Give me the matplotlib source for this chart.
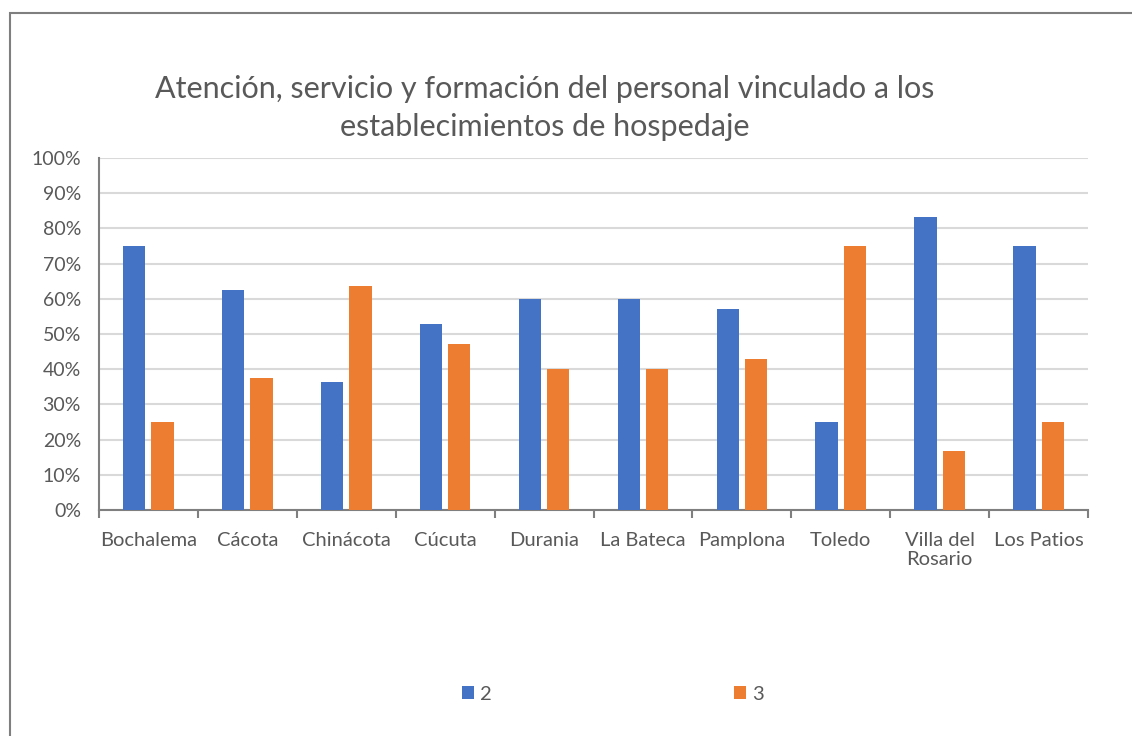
import matplotlib.pyplot as plt
from matplotlib.patches import Rectangle
import numpy as np

plt.rcParams['font.family'] = ['Lato', 'DejaVu Sans']

municipios = ["Bochalema", "Cácota", "Chinácota", "Cúcuta", "Durania",
              "La Bateca", "Pamplona", "Toledo", "Villa del\nRosario", "Los Patios"]
serie_2 = [75.0, 62.5, 36.4, 52.9, 60.0, 60.0, 57.1, 25.0, 83.3, 75.0]
serie_3 = [25.0, 37.5, 63.6, 47.1, 40.0, 40.0, 42.9, 75.0, 16.7, 25.0]
nombres_series = ["2", "3"]

azul = "#4472C4"
naranja = "#ED7D31"
gris_texto = "#595959"

fig = plt.figure(figsize=(11.32, 7.36), dpi=100)
# marco del grafico
fig.patches.append(Rectangle((10 / 1132, -0.1), 1.2, 1 - 13 / 736 + 0.1,
                             transform=fig.transFigure, fill=False,
                             edgecolor="#7f7f7f", linewidth=1.5))

ax = fig.add_axes([99 / 1132, 226 / 736, 989 / 1132, 352 / 736])
x = np.arange(len(municipios))
w = 0.225
ax.bar(x - 0.143, serie_2, w, color=azul, label=nombres_series[0], zorder=3)
ax.bar(x + 0.143, serie_3, w, color=naranja, label=nombres_series[1], zorder=3)

ax.set_xlim(-0.5, len(municipios) - 0.5)
ax.set_ylim(0, 100)
ax.set_yticks(np.arange(0, 101, 10))
ax.set_yticklabels([f"{v}%" for v in range(0, 101, 10)])
ax.yaxis.grid(True, color="#d9d9d9", linewidth=1.5, zorder=0)
ax.set_xticks(x)
ax.set_xticklabels(municipios)
ax.set_xticks(np.arange(-0.5, len(municipios)), minor=True)
ax.tick_params(axis="x", which="major", length=0, pad=16, labelsize=14.5, colors=gris_texto)
ax.tick_params(axis="x", which="minor", length=6, width=1.5, color="#7f7f7f")
ax.tick_params(axis="y", length=0, pad=13, labelsize=14, colors=gris_texto)
for lado in ["top", "right"]:
    ax.spines[lado].set_visible(False)
for lado in ["left", "bottom"]:
    ax.spines[lado].set_color("#7f7f7f")
    ax.spines[lado].set_linewidth(1.5)
for lbl in ax.get_xticklabels():
    lbl.set_verticalalignment("top")
    lbl.set_linespacing(1.1)

fig.text(545 / 1132, 1 - 108 / 736,
         "Atención, servicio y formación del personal vinculado a los\nestablecimientos de hospedaje",
         ha="center", va="center", fontsize=22, color=gris_texto, linespacing=1.4)

fig.legend(loc="center", bbox_to_anchor=(613 / 1132, 1 - 694 / 736), ncol=2,
           frameon=False, fontsize=14.5, labelcolor=gris_texto, handlelength=0.6,
           handleheight=0.6, handletextpad=0.3, columnspacing=12)

fig.savefig("out.png", dpi=100)
